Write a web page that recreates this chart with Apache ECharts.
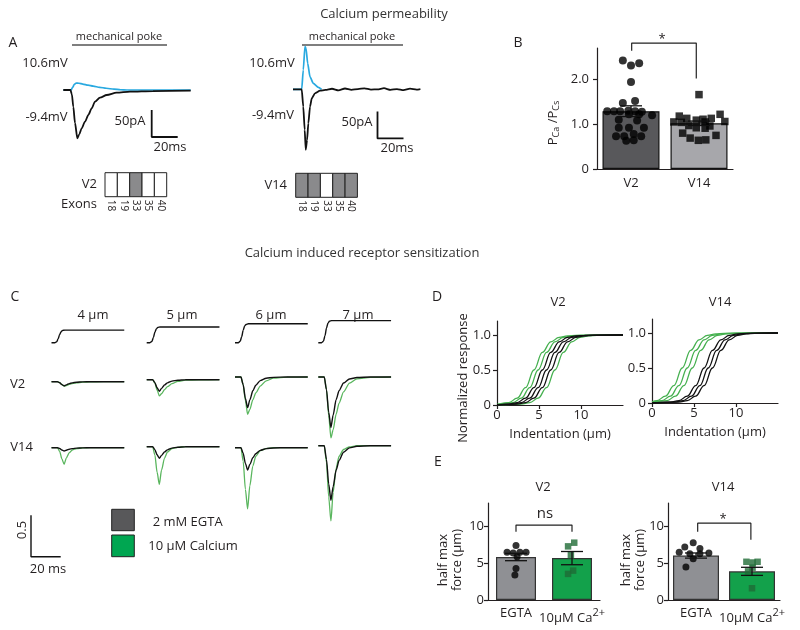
<!DOCTYPE html>
<html><head><meta charset="utf-8">
<script src="https://cdn.jsdelivr.net/npm/echarts@6/dist/echarts.min.js"></script>
<style>html,body{margin:0;padding:0;background:#fff}#c{width:800px;height:630px}</style>
</head><body><div id="c"></div>
<script>
// ================= DATA =================
// Panel A : currents (t in ms, current in pA)
const aBlueV2  = [[1,0],[7,0],[8.2,5],[9.5,10.5],[11,13],[13,12.5],[16,11],[20,9],[24,7.2],[29,5],[34,3.2],[40,1.5],[45,0.5],[50,0],[99,0]];
const aBlackV2 = [[1,0],[6.5,0],[7.6,-8],[8.7,-31],[10,-61],[11.8,-89.5],[13.3,-82],[15.1,-71],[17.7,-58.6],[20.3,-46],[22.8,-34],[25.4,-21.6],[29.2,-14.2],[34.4,-9.3],[42,-4.9],[52.3,-3],[70,-1.9],[99,-1.2]];
const aBlueV14  = [[0,0],[6.7,0],[7.9,36],[9.2,79],[10,76],[11.3,48],[13.1,23],[15.6,11],[19.5,3.7],[22,0]];
const aBlackV14 = [[0,0],[6.7,0],[7.9,-32],[9,-75],[9.8,-112],[10.8,-94],[11.8,-63],[13.1,-32],[14.4,-17],[16.9,-7.4],[20.8,-2.6],[25,-1],[30,1],[35,-2],[40,1.5],[45,-1],[50,0.5],[55,1.8],[60,-0.5],[65,0],[70,2],[75,-1],[80,0.5],[85,-1.5],[90,1.2],[95,-0.5],[98,0.5]];
const aScaleMs = 20, aScalePa = 50;
const exonLabels = ['18','19','33','35','40'];
const exonsV2  = [0,0,1,0,0];
const exonsV14 = [1,1,0,1,1];

// Panel B : PCa/PCs
const bCategories = ['V2','V14'];
const bMeans = [1.29, 1.02];
const bSem = [0.12, 0.05];
const bV2Points = [[-0.12,2.42],[0.12,2.36],[0,2.31],[0,1.94],[-0.12,1.47],[0.06,1.52],[-0.35,1.29],[-0.25,1.29],[-0.16,1.29],[-0.04,1.3],[0.06,1.29],[0.16,1.28],[0.31,1.2],[-0.03,1.22],[0.12,1.22],[-0.18,1.1],[0.09,1.08],[-0.18,0.92],[-0.03,0.92],[0.19,0.92],[-0.22,0.73],[-0.1,0.73],[0.04,0.78],[0.15,0.73],[-0.07,0.63],[0.04,0.64]];
const bV14Points = [[0,1.66],[-0.29,1.18],[-0.18,1.13],[-0.04,1.09],[0.06,1.11],[0.18,1.13],[0.31,1.22],[-0.37,1.05],[-0.26,1.04],[0.09,1.05],[0.38,1.06],[-0.15,0.97],[-0.04,0.92],[0.09,0.91],[0.16,0.96],[-0.24,0.8],[0.25,0.75],[-0.13,0.69],[-0.01,0.64],[0.1,0.65]];
const bBracket = [[0.51,2.64],[0.51,2.81],[1.46,2.81],[1.46,2.02]];

// Panel C : stimulus (um) and normalized currents
const cLabels = ['4 μm','5 μm','6 μm','7 μm'];
const cStimTime = [0,2.2,3.5,4.5,5.5,6.5,7.5,9,49];
const cStimulus = [
  [0,0,0.3,1.3,2.6,3.5,3.9,4,4],
  [0,0,0.4,1.6,3.3,4.4,4.85,5,5],
  [0,0,0.45,1.9,3.9,5.3,5.8,6,6],
  [0,0,0.5,2.2,4.6,6.2,6.8,7,7]
];
const cTime = [0,4,5.5,7,8.5,10,12,14,17,21,26,35,49];
const cV2Egta = [
  [0,0,-0.013,-0.035,-0.05,-0.038,-0.023,-0.014,-0.006,-0.002,-0.001,0,0],
  [0,0,-0.035,-0.098,-0.14,-0.105,-0.063,-0.038,-0.017,-0.006,-0.001,0,0],
  [0,0,-0.093,-0.259,-0.37,-0.278,-0.167,-0.1,-0.044,-0.015,-0.004,0,0],
  [0,0,-0.153,-0.427,-0.61,-0.458,-0.275,-0.165,-0.073,-0.024,-0.006,0,0]
];
const cV2Ca = [
  [0,0,-0.011,-0.034,-0.054,-0.047,-0.033,-0.023,-0.013,-0.006,-0.002,0,0],
  [0,0,-0.04,-0.124,-0.196,-0.17,-0.12,-0.084,-0.048,-0.02,-0.006,-0.001,0],
  [0,0,-0.092,-0.285,-0.451,-0.391,-0.276,-0.193,-0.11,-0.046,-0.014,-0.002,0],
  [0,0,-0.15,-0.465,-0.735,-0.638,-0.45,-0.315,-0.18,-0.075,-0.023,-0.004,0]
];
const cV14Egta = [
  [0,0,-0.01,-0.028,-0.04,-0.03,-0.018,-0.011,-0.005,-0.002,0,0,0],
  [0,0,-0.035,-0.098,-0.14,-0.105,-0.063,-0.038,-0.017,-0.006,-0.001,0,0],
  [0,0,-0.068,-0.189,-0.27,-0.203,-0.122,-0.073,-0.032,-0.011,-0.003,0,0],
  [0,0,-0.165,-0.462,-0.66,-0.495,-0.297,-0.178,-0.079,-0.026,-0.007,0,0]
];
const cV14Ca = [
  [0,0,-0.044,-0.136,-0.2,-0.124,-0.06,-0.028,-0.01,-0.003,0,0,0],
  [0,0,-0.1,-0.309,-0.455,-0.282,-0.137,-0.064,-0.023,-0.007,0,0,0],
  [0,0,-0.163,-0.503,-0.74,-0.459,-0.222,-0.104,-0.037,-0.011,0,0,0],
  [0,0,-0.2,-0.619,-0.91,-0.564,-0.273,-0.127,-0.046,-0.014,0,0,0]
];
const cScaleMs = 20, cScaleNorm = 0.5;

// Panel D : normalized response vs indentation (um)
const dV2Ca = [
  [[0,0.008],[1.4,0.034],[2.4,0.098],[3.4,0.248],[4.4,0.5],[5.4,0.752],[6.4,0.902],[7.4,0.966],[8.4,0.988],[9.4,0.996],[15,1]],
  [[0,0.004],[1.9,0.034],[2.9,0.098],[3.9,0.248],[4.9,0.5],[5.9,0.752],[6.9,0.902],[7.9,0.966],[8.9,0.988],[9.9,0.996],[15,1]],
  [[0,0.001],[2.9,0.012],[3.9,0.034],[4.9,0.098],[5.9,0.248],[6.9,0.5],[7.9,0.752],[8.9,0.902],[9.9,0.966],[10.9,0.988],[11.9,0.996],[15,1]]
];
const dV2Egta = [
  [[0,0.003],[1.4,0.012],[2.4,0.034],[3.4,0.098],[4.4,0.248],[5.4,0.5],[6.4,0.752],[7.4,0.902],[8.4,0.966],[9.4,0.988],[10.4,0.996],[15,1]],
  [[0,0.002],[1.9,0.012],[2.9,0.034],[3.9,0.098],[4.9,0.248],[5.9,0.5],[6.9,0.752],[7.9,0.902],[8.9,0.966],[9.9,0.988],[10.9,0.996],[15,1]],
  [[0,0.001],[2.4,0.012],[3.4,0.034],[4.4,0.098],[5.4,0.248],[6.4,0.5],[7.4,0.752],[8.4,0.902],[9.4,0.966],[10.4,0.988],[11.4,0.996],[15,1]]
];
const dV14Ca = [
  [[0,0.018],[0.6,0.034],[1.6,0.098],[2.6,0.248],[3.6,0.5],[4.6,0.752],[5.6,0.902],[6.6,0.966],[7.6,0.988],[8.6,0.996],[15,1]],
  [[0,0.009],[1.2,0.034],[2.2,0.098],[3.2,0.248],[4.2,0.5],[5.2,0.752],[6.2,0.902],[7.2,0.966],[8.2,0.988],[9.2,0.996],[15,1]],
  [[0,0.005],[1.8,0.034],[2.8,0.098],[3.8,0.248],[4.8,0.5],[5.8,0.752],[6.8,0.902],[7.8,0.966],[8.8,0.988],[9.8,0.996],[15,1]]
];
const dV14Egta = [
  [[0,0.001],[2.2,0.012],[3.2,0.034],[4.2,0.098],[5.2,0.248],[6.2,0.5],[7.2,0.752],[8.2,0.902],[9.2,0.966],[10.2,0.988],[11.2,0.996],[15,1]],
  [[0,0.001],[2.7,0.012],[3.7,0.034],[4.7,0.098],[5.7,0.248],[6.7,0.5],[7.7,0.752],[8.7,0.902],[9.7,0.966],[10.7,0.988],[11.7,0.996],[15,1]],
  [[0,0.0005],[3.2,0.012],[4.2,0.034],[5.2,0.098],[6.2,0.248],[7.2,0.5],[8.2,0.752],[9.2,0.902],[10.2,0.966],[11.2,0.988],[12.2,0.996],[15,1]]
];

// Panel E : half max force (um)
const eCategories = ['EGTA','10μM Ca2+'];
const eV2Mean = [5.85, 5.7];
const eV2Sem = [0.5, 0.9];
const eV14Mean = [6.05, 3.9];
const eV14Sem = [0.35, 0.55];
const eV2Egta = [[0,7.4],[-0.16,6.5],[-0.05,6.4],[0.07,6.5],[0.18,6.5],[0.02,5.9],[0,4.3],[-0.02,3.4]];
const eV2Ca = [[0.04,7.8],[-0.07,7.3],[-0.02,6.1],[0.02,4.0],[-0.07,3.55]];
const eV14Egta = [[-0.05,7.8],[-0.2,7.2],[0.07,7.0],[-0.3,6.5],[-0.11,6.3],[0.07,6.3],[0.23,6.4],[-0.05,5.6],[-0.18,4.5]];
const eV14Ca = [[-0.1,5.2],[0.01,5.1],[0.1,5.2],[-0.07,3.9],[0.01,4.4],[0,1.6]];
const eV2Bracket = [[0.5,9.3],[0.5,10.2],[1.5,10.2],[1.5,9.3]];
const eV14Bracket = [[0.53,9.3],[0.53,10.45],[1.48,10.45],[1.48,8.2]];

// ================= BUILD =================
const FONT = '"Open Sans", Lato, sans-serif';
const INK = '#231f20';
const BLUE = '#29a9e0';
const CGREEN = '#5ab65e';
const DGREEN = '#45b04f';
const grids = [], xAxis = [], yAxis = [], series = [], graphic = [];
function grid(left, top, width, height){ grids.push({left, top, width, height}); return grids.length - 1; }
function xa(cfg){ xAxis.push(cfg); return xAxis.length - 1; }
function ya(cfg){ yAxis.push(cfg); return yAxis.length - 1; }
function hiddenPair(g, xmin, xmax, ymin, ymax){
  return { x: xa({gridIndex:g, type:'value', min:xmin, max:xmax, show:false}),
           y: ya({gridIndex:g, type:'value', min:ymin, max:ymax, show:false}) };
}
function line(ax, data, color, width, smooth, extra){
  series.push(Object.assign({type:'line', xAxisIndex:ax.x, yAxisIndex:ax.y, data, symbol:'none', silent:true,
    smooth: smooth, smoothMonotone:'x', lineStyle:{color, width}, clip:false}, extra || {}));
}
function txt(text, x, y, opt){
  opt = opt || {};
  graphic.push({type:'text', x, y, rotation: opt.rot || 0, silent:true, style:Object.assign({text, fill: opt.color || INK,
    fontSize: opt.size || 13, fontFamily: FONT, align: opt.align || 'center', verticalAlign:'middle'}, opt.style || {})});
}
const axLine = {show:true, lineStyle:{color:INK, width:1.2}};
const lbl = {color:INK, fontSize:13, fontFamily:FONT};

// ----- Panel A -----
const axAL = hiddenPair(grid(62, 41.4, 130, 113.4), 0, 100, -120, 90);
const axAR = hiddenPair(grid(293, 40.7, 130, 113.4), 0, 100, -120, 90);
line(axAL, aBlueV2, BLUE, 1.7, 0.25);
line(axAL, aBlackV2, '#111', 1.8, 0.25);
line(axAR, aBlueV14, BLUE, 1.7, 0.2);
line(axAR, aBlackV14, '#111', 1.8, 0.2);
function scaleBar(ax, t0, v0, dt, dv){
  line(ax, [[t0, v0 + dv],[t0, v0],[t0 + dt, v0]], '#111', 1.8, false);
}
scaleBar(axAL, 69, -87, aScaleMs, aScalePa);
scaleBar(axAR, 65, -91, aScaleMs, aScalePa);
function exonGrid(left, top, flags){
  const g = grid(left, top, 61.7, 24);
  const x = xa({gridIndex:g, type:'category', data:exonLabels, axisLine:{show:false}, axisTick:{show:false},
    axisLabel:{rotate:-90, fontSize:10, margin:3, interval:0, color:INK, fontFamily:FONT}});
  const y = ya({gridIndex:g, type:'value', min:0, max:1, show:false});
  series.push({type:'custom', xAxisIndex:x, yAxisIndex:y, silent:true,
    data: flags.map((f,i) => [i, 1, f]),
    renderItem: (params, api) => {
      const top = api.coord([api.value(0), 1]), bot = api.coord([api.value(0), 0]);
      const bw = api.size([1, 0])[0];
      return {type:'rect', shape:{x: top[0] - bw/2, y: top[1], width: bw, height: bot[1] - top[1]},
        style:{fill: api.value(2) ? '#8a8a8c' : '#ffffff', stroke:'#222', lineWidth:1}};
    }});
}
exonGrid(105, 172.7, exonsV2);
exonGrid(295.7, 173.3, exonsV14);

// ----- Panel B -----
const gB = grid(597, 48, 136, 121);
const bx = xa({gridIndex:gB, type:'category', data:bCategories, axisLine:axLine, axisTick:{show:false}, axisLabel:Object.assign({margin:8, interval:0}, lbl)});
const bxv = xa({gridIndex:gB, type:'value', min:0, max:2, show:false});
const by = ya({gridIndex:gB, type:'value', min:0, max:2.7, axisLine:axLine, splitLine:{show:false},
  axisTick:{show:true, length:4, customValues:[0,1,2], lineStyle:{color:INK, width:1.2}},
  axisLabel:Object.assign({customValues:[0,1,2], margin:8, formatter:v => v === 0 ? '0' : v.toFixed(1)}, lbl)});
const bColors = ['#58585b','#a7a7ab'];
series.push({type:'bar', xAxisIndex:bx, yAxisIndex:by, barWidth:57, silent:true,
  data: bMeans.map((v,i) => ({value:v, itemStyle:{color:bColors[i], borderColor:'#111', borderWidth:1.2}}))});
series.push({type:'scatter', xAxisIndex:bxv, yAxisIndex:by, symbol:'circle', symbolSize:8, silent:true,
  itemStyle:{color:'#000'}, data: bV2Points.map(p => [0.5 + p[0], p[1]])});
series.push({type:'scatter', xAxisIndex:bxv, yAxisIndex:by, symbol:'rect', symbolSize:7.5, silent:true,
  itemStyle:{color:'#000'}, data: bV14Points.map(p => [1.5 + p[0], p[1]])});
function errorBars(xIdx, yIdx, means, sems, capHalf){
  series.push({type:'custom', xAxisIndex:xIdx, yAxisIndex:yIdx, silent:true, z:5,
    data: means.map((m,i) => [i, m, sems[i]]),
    renderItem: (params, api) => {
      const c = api.value(0), m = api.value(1), e = api.value(2);
      const t = api.coord([c, m + e]), b = api.coord([c, m - e]);
      const st = {stroke:'#111', lineWidth:1.3};
      return {type:'group', children:[
        {type:'line', shape:{x1:t[0], y1:t[1], x2:b[0], y2:b[1]}, style:st},
        {type:'line', shape:{x1:t[0]-capHalf, y1:t[1], x2:t[0]+capHalf, y2:t[1]}, style:st},
        {type:'line', shape:{x1:b[0]-capHalf, y1:b[1], x2:b[0]+capHalf, y2:b[1]}, style:st}
      ]};
    }});
}
errorBars(bx, by, bMeans, bSem, 11);
line({x:bxv, y:by}, bBracket, '#222', 1.2, false);

// ----- Panel C -----
const colLeft = [51.5, 146.7, 235, 318.3];
const v2Base = [381.7, 379.7, 377, 377];
const v14Base = [447.7, 446.7, 447.7, 445.7];
const CW = 49 * 1.485, PXU = 82.7;
for (let c = 0; c < 4; c++) {
  const st = hiddenPair(grid(colLeft[c], 342.7 - 25.2, CW, 25.2), 0, 49, 0, 8);
  line(st, cStimTime.map((t,i) => [t, cStimulus[c][i]]), '#111', 1.4, 0.3);
  const r1 = hiddenPair(grid(colLeft[c], v2Base[c] - 0.1*PXU, CW, 1.1*PXU), 0, 49, -1, 0.1);
  line(r1, cTime.map((t,i) => [t, cV2Ca[c][i]]), CGREEN, 1.3, 0.25, {name:'10 μM Calcium'});
  line(r1, cTime.map((t,i) => [t, cV2Egta[c][i]]), '#111', 1.4, 0.25, {name:'2 mM EGTA'});
  const r2 = hiddenPair(grid(colLeft[c], v14Base[c] - 0.1*PXU, CW, 1.1*PXU), 0, 49, -1, 0.1);
  line(r2, cTime.map((t,i) => [t, cV14Ca[c][i]]), CGREEN, 1.3, 0.25, {name:'10 μM Calcium'});
  line(r2, cTime.map((t,i) => [t, cV14Egta[c][i]]), '#111', 1.4, 0.25, {name:'2 mM EGTA'});
}
const axCS = hiddenPair(grid(31, 556.7 - 0.5*PXU, 20*1.485, 0.5*PXU), 0, 20, 0, 0.5);
line(axCS, [[0, cScaleNorm],[0,0],[cScaleMs,0]], '#111', 1.4, false);

// ----- Panel D -----
function dPanel(left, top, ca, egta){
  const g = grid(left, top, 126, 84);
  const x = xa({gridIndex:g, type:'value', min:0, max:15, axisLine:axLine, splitLine:{show:false},
    axisTick:{show:true, length:4, customValues:[0,5,10], lineStyle:{color:INK, width:1.2}},
    axisLabel:Object.assign({customValues:[0,5,10], margin:4}, lbl),
    name:'Indentation (μm)', nameLocation:'middle', nameGap:23, nameTextStyle:lbl});
  const y = ya({gridIndex:g, type:'value', min:0, max:1.2, axisLine:axLine, splitLine:{show:false},
    axisTick:{show:true, length:4, customValues:[0,0.5,1], lineStyle:{color:INK, width:1.2}},
    axisLabel:Object.assign({customValues:[0,0.5,1], margin:6, formatter:v => v === 0 ? '0' : v.toFixed(1)}, lbl)});
  ca.forEach(d => line({x, y}, d, DGREEN, 1.3, 0.4));
  egta.forEach(d => line({x, y}, d, '#111', 1.3, 0.4));
}
dPanel(497, 321, dV2Ca, dV2Egta);
dPanel(652, 319, dV14Ca, dV14Egta);

// ----- Panel E -----
function ePanel(left, means, sems, egtaPts, caPts, bracket, barW){
  const g = grid(left, 503, 112, 97);
  const x = xa({gridIndex:g, type:'category', data:eCategories, axisLine:axLine, axisTick:{show:false},
    axisLabel:Object.assign({margin:7, interval:0, hideOverlap:false, formatter: v => v.replace('2+', '{sup|2+}'),
      rich:{sup:{fontSize:11, fontFamily:FONT, color:INK, padding:[0,0,12,0]}}}, lbl)});
  const xv = xa({gridIndex:g, type:'value', min:0, max:2, show:false});
  const y = ya({gridIndex:g, type:'value', min:0, max:13.2, axisLine:axLine, splitLine:{show:false},
    axisTick:{show:true, length:4, customValues:[0,5,10], lineStyle:{color:INK, width:1.2}},
    axisLabel:Object.assign({customValues:[0,5,10], margin:4}, lbl)});
  const cols = ['#8f9094', '#13a14b'];
  series.push({type:'bar', xAxisIndex:x, yAxisIndex:y, barWidth:barW, silent:true,
    data: means.map((v,i) => ({value:v, itemStyle:{color:cols[i], borderColor:'#333', borderWidth:1.2}}))});
  series.push({type:'scatter', xAxisIndex:xv, yAxisIndex:y, symbol:'circle', symbolSize:7, silent:true,
    itemStyle:{color:'#000'}, data: egtaPts.map(p => [0.5 + p[0], p[1]])});
  series.push({type:'scatter', xAxisIndex:xv, yAxisIndex:y, symbol:'rect', symbolSize:6.5, silent:true,
    itemStyle:{color:'#1f6b36'}, data: caPts.map(p => [1.5 + p[0], p[1]])});
  errorBars(x, y, means, sems, 11);
  line({x:xv, y}, bracket, '#222', 1.2, false);
}
ePanel(488, eV2Mean, eV2Sem, eV2Egta, eV2Ca, eV2Bracket, 40);
ePanel(668, eV14Mean, eV14Sem, eV14Egta, eV14Ca, eV14Bracket, 46);

// ----- Text / annotations -----
txt('Calcium permeability', 384, 14, {color:'#333'});
txt('Calcium induced receptor sensitization', 362, 253, {color:'#333'});
txt('A', 13, 43, {size:14}); txt('B', 518, 43, {size:14}); txt('C', 15, 297, {size:14});
txt('D', 437, 297, {size:14}); txt('E', 438, 462, {size:14});
txt('mechanical poke', 119, 37, {size:11});
txt('mechanical poke', 352, 37, {size:11});
graphic.push({type:'line', silent:true, shape:{x1:72, y1:45, x2:167, y2:45}, style:{stroke:'#555', lineWidth:1.5}});
graphic.push({type:'line', silent:true, shape:{x1:302, y1:45, x2:403, y2:45}, style:{stroke:'#555', lineWidth:1.5}});
txt('10.6mV', 45, 63); txt('10.6mV', 272, 63);
txt('-9.4mV', 46.5, 117); txt('-9.4mV', 273, 115);
txt('50pA', 130, 121); txt('50pA', 357, 122);
txt('20ms', 170, 147); txt('20ms', 397, 148);
txt('V2', 97, 184.5, {align:'right'});
txt('V14', 287, 185, {align:'right'});
txt('Exons', 79, 204);
graphic.push({type:'text', x:553, y:123, rotation:Math.PI/2, silent:true,
  style:{text:'P{s|Ca} /P{s|Cs}', fill:INK, fontSize:13, fontFamily:FONT, align:'center', verticalAlign:'middle',
    rich:{s:{fontSize:9, fontFamily:FONT, fill:INK, padding:[7,0,0,0]}}}});
txt('*', 662, 39, {size:13});
cLabels.forEach((t,i) => txt(t, [93,182,271,358][i], 315));
txt('V2', 17.5, 384); txt('V14', 21.5, 447);
txt('0.5', 22, 530, {rot:Math.PI/2});
txt('20 ms', 48, 569);
graphic.push({type:'rect', silent:true, shape:{x:111.7, y:509.3, width:22.6, height:21.4}, style:{fill:'#58585a', stroke:'#222', lineWidth:1}});
graphic.push({type:'rect', silent:true, shape:{x:111.7, y:535, width:22.6, height:21.7}, style:{fill:'#00a651', stroke:'#222', lineWidth:1}});
txt('2 mM EGTA', 152.7, 522.7, {align:'left'});
txt('10 μM Calcium', 148.3, 546, {align:'left'});
txt('V2', 558, 302); txt('V14', 720, 302);
txt('Normalized response', 463, 378, {rot:Math.PI/2});
txt('V2', 543, 487); txt('V14', 723, 487);
txt('half max\nforce (μm)', 450, 560, {rot:Math.PI/2, style:{lineHeight:14}});
txt('half max\nforce (μm)', 633, 560, {rot:Math.PI/2, style:{lineHeight:14}});
txt('ns', 545, 514, {size:15});
txt('*', 723, 519, {size:13});

const chart = echarts.init(document.getElementById('c'));
chart.setOption({animation:false, backgroundColor:'#fff', grid:grids, xAxis, yAxis, series, graphic});
</script></body></html>
